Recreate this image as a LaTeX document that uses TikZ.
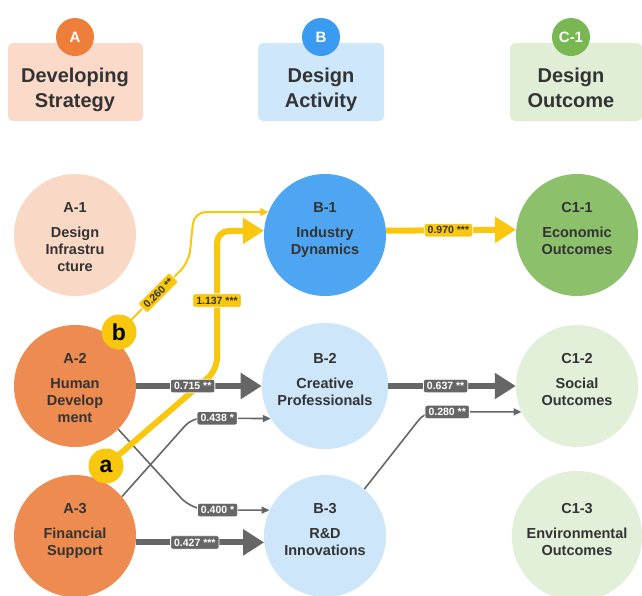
\documentclass[tikz,border=0pt]{standalone}
\usepackage{fontspec}
\setmainfont{Liberation Sans}
\usetikzlibrary{arrows.meta}

\definecolor{ink}{HTML}{333333}
\definecolor{orgDark}{HTML}{EE8B50}
\definecolor{orgPale}{HTML}{FAD8C6}
\definecolor{orgHead}{HTML}{EE7F3B}
\definecolor{orgBox}{HTML}{FBDACA}
\definecolor{bluDark}{HTML}{4EA6F2}
\definecolor{bluPale}{HTML}{CDE6FA}
\definecolor{bluHead}{HTML}{3A9BF2}
\definecolor{bluBox}{HTML}{CFE7FB}
\definecolor{grnDark}{HTML}{8CC06A}
\definecolor{grnPale}{HTML}{E2EFD9}
\definecolor{grnHead}{HTML}{78B752}
\definecolor{grnBox}{HTML}{E0EED6}
\definecolor{gold}{HTML}{F9C80E}
\definecolor{edgegray}{HTML}{666666}

% fixed line heights so every circle label sits at the same place
\newcommand\cirtop{\rule{0pt}{19pt}}
\newcommand\cirend{\rule[-5pt]{0pt}{5pt}}

\begin{document}
\begin{tikzpicture}[x=1pt,y=-1pt,
  headbox/.style={rounded corners=5pt, inner sep=0pt},
  headtext/.style={align=center, text=ink, font=\bfseries\fontsize{20}{25}\selectfont},
  headdot/.style={circle, minimum size=38pt, inner sep=0pt, text=white,
    font=\bfseries\fontsize{15}{15}\selectfont},
  circ/.style={circle, minimum size=122pt, inner sep=0pt, align=center, text=ink,
    font=\bfseries\fontsize{14.5}{17}\selectfont},
  badge/.style={circle, fill=gold, minimum size=35pt, inner sep=0pt, text=black,
    font=\bfseries\fontsize{23}{23}\selectfont},
  lbl/.style={rounded corners=2pt, inner xsep=3.5pt, inner ysep=3pt, draw=white,
    line width=0.8pt, text height=7.5pt, text depth=0pt,
    font=\bfseries\fontsize{10.5}{11}\selectfont},
  glbl/.style={lbl, fill=edgegray, text=white},
  ylbl/.style={lbl, fill=gold, text=ink},
  thickG/.style={draw=edgegray, line width=6pt, -{Triangle[length=21pt,width=25pt]}},
  thinG/.style={draw=edgegray, line width=1.6pt, rounded corners=10pt,
    -{Triangle[length=8pt,width=7pt]}},
  thickY/.style={draw=gold, line width=6pt, rounded corners=12pt,
    -{Triangle[length=21pt,width=25pt]}},
  thinY/.style={draw=gold, line width=2pt, rounded corners=12pt,
    -{Triangle[length=8pt,width=8pt]}},
]
\useasboundingbox (0,0) rectangle (642,595);
\fill[white] (0,0) rectangle (642,595);

% column headers
\fill[headbox, orgBox] (8,43) rectangle (143,121);
\fill[headbox, bluBox] (258,43) rectangle (384,121);
\fill[headbox, grnBox] (510,43) rectangle (642,121);
\node[headdot, fill=orgHead] (hA) at (75,37) {A};
\node[headdot, fill=bluHead] (hB) at (321,37) {B};
\node[headdot, fill=grnHead] (hC) at (571,37) {C-1};
\node[headtext] (tA) at (75,90) {Developing\strut\\Strategy\strut};
\node[headtext] (tB) at (321,90) {Design\strut\\Activity\strut};
\node[headtext] (tC) at (571,90) {Design\strut\\Outcome\strut};

% factor circles
\node[circ, fill=orgPale] (A1) at (75,235) {\cirtop A-1\\[8pt]Design\\Infrastru\\cture\cirend};
\node[circ, fill=orgDark] (A2) at (75,386) {\cirtop A-2\\[8pt]Human\\Develop\\ment\cirend};
\node[circ, fill=orgDark] (A3) at (75,536) {\cirtop A-3\\[8pt]Financial\\Support\\\cirend};
\node[circ, fill=bluDark] (B1) at (325,235) {\cirtop B-1\\[8pt]Industry\\Dynamics\\\cirend};
\node[circ, fill=bluPale] (B2) at (325,386) {\cirtop B-2\\[8pt]Creative\\Professionals\\\cirend};
\node[circ, fill=bluPale] (B3) at (325,536) {\cirtop B-3\\[8pt]R\&D\\Innovations\\\cirend};
\node[circ, fill=grnDark] (C1) at (577,235) {\cirtop C1-1\\[8pt]Economic\\Outcomes\\\cirend};
\node[circ, fill=grnPale] (C2) at (577,386) {\cirtop C1-2\\[8pt]Social\\Outcomes\\\cirend};
\node[circ, fill=grnPale] (C3) at (577,536) {\cirtop C1-3\\[8pt]Environmental\\Outcomes\\\cirend};

% path badges
\coordinate (bpos) at (119,332);
\coordinate (apos) at (106,466);

% thin grey paths
\draw[thinG] (A3.40) -- (192,418) -- node[glbl, pos=0.32] (l438) {0.438 *} (B2.211.6);
\draw[thinG, rounded corners=16pt] (A2.-45) -- (192,510) -- node[glbl, pos=0.33] (l400) {0.400 *} (B3.155);
\draw[thinG] (B3.50) -- (425,412) -- node[glbl, pos=0.23] (l280) {0.280 **} (C2.205);

% yellow paths through the badges
\draw[thinY] (bpos) -- node[ylbl, sloped, pos=0.56] (l260) {0.260 **} (189,262) -- (194,212) -- (B1.158);
\draw[thickY] (apos) -- (217,370) -- node[ylbl, pos=0.5] (l1137) {1.137 ***} (217,231) -- (B1.176);
\draw[thickY, rounded corners=0pt] (B1.4.7) -- node[ylbl, pos=0.48] (l970) {0.970 ***} (C1.175.3);

% thick grey paths (their labels sit above the yellow line)
\draw[thickG] (A2.east) -- node[glbl, pos=0.45] (l715) {0.715 **} (B2.west);
\draw[thickG] (A3.-6.6) -- node[glbl, pos=0.46] (l427) {0.427 ***} (B3.186.6);
\draw[thickG] (B2.east) -- node[glbl, pos=0.45] (l637) {0.637 **} (C2.west);

\node[badge] (b) at (bpos) {b};
\node[badge] (a) at (apos) {a};
\end{tikzpicture}
\end{document}
